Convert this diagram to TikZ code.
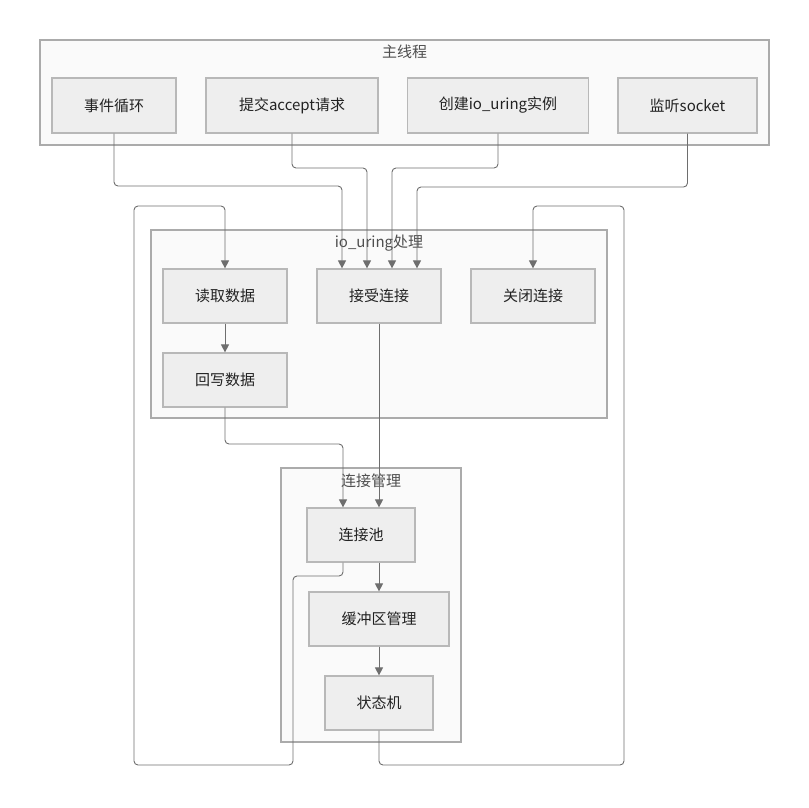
\documentclass[tikz,border=0pt]{standalone}
\usepackage{fontspec}
\setmainfont{Noto Sans CJK SC}
\usetikzlibrary{arrows.meta}
\definecolor{nodefill}{HTML}{EEEEEE}
\definecolor{nodeline}{HTML}{B8B8B8}
\definecolor{clfill}{HTML}{FAFAFA}
\definecolor{clline}{HTML}{ABABAB}
\definecolor{edgecol}{HTML}{6E6E6E}
\definecolor{txt}{HTML}{222222}
\tikzset{
  box/.style={draw=nodeline, fill=nodefill, line width=1.2pt, minimum height=54pt, inner sep=0pt, text=txt, font=\fontsize{15}{18}\selectfont},
  cluster/.style={draw=clline, fill=clfill, line width=1.2pt, inner sep=0pt},
  cltitle/.style={text=txt!80, font=\fontsize{15}{18}\selectfont, inner sep=0pt},
  arr/.style={draw=edgecol, line width=0.9pt, rounded corners=4pt, -{Triangle[length=8pt,width=8pt]}},
  plain/.style={draw=edgecol, line width=0.9pt, rounded corners=4pt},
}
\begin{document}
\begin{tikzpicture}[x=1pt,y=-1pt]
\useasboundingbox (0,0) rectangle (809,807);
% clusters
\node[cluster, minimum width=729pt, minimum height=105pt] (mainc) at (404.5,92.5) {};
\node[cltitle] (maint) at (404.5,52) {主线程};
\node[cluster, minimum width=456pt, minimum height=188pt] (ioc) at (379,324) {};
\node[cltitle] (iot) at (379,243) {io\_uring处理};
\node[cluster, minimum width=180pt, minimum height=274pt] (cmc) at (371,605) {};
\node[cltitle] (cmt) at (371,481) {连接管理};
% main thread nodes
\node[box, minimum width=124pt, minimum height=55pt] (loop) at (114,105.5) {事件循环};
\node[box, minimum width=172pt, minimum height=55pt] (submit) at (292,105.5) {提交accept请求};
\node[box, minimum width=181pt, minimum height=55pt] (create) at (498,105.5) {创建io\_uring实例};
\node[box, minimum width=139pt, minimum height=55pt] (listen) at (687.5,105.5) {监听socket};
% io_uring nodes
\node[box, minimum width=124pt] (read) at (225,296) {读取数据};
\node[box, minimum width=124pt] (accept) at (379,296) {接受连接};
\node[box, minimum width=124pt] (close) at (533,296) {关闭连接};
\node[box, minimum width=124pt] (write) at (225,380) {回写数据};
% connection management
\node[box, minimum width=108pt] (pool) at (361,535) {连接池};
\node[box, minimum width=140pt] (buffer) at (379,619) {缓冲区管理};
\node[box, minimum width=108pt] (state) at (379,703) {状态机};
% edges into accept
\draw[arr] (loop.south) -- (114,186) -| ([xshift=-37pt]accept.north);
\draw[arr] (submit.south) -- (292,168) -| ([xshift=-12pt]accept.north);
\draw[arr] (create.south) -- (498,168) -| ([xshift=13pt]accept.north);
\draw[arr] (listen.south) -- (687.5,187) -| ([xshift=38pt]accept.north);
% io_uring flow
\draw[arr] (read.south) -- (write.north);
\draw[arr] (accept.south) -- (accept.south |- pool.north);
\draw[arr] (write.south) -- (225,444) -| ([xshift=-18pt]pool.north);
\draw[arr] ([xshift=18pt]pool.south) -- (buffer.north);
\draw[arr] (buffer.south) -- (state.north);
% loops back
\draw[arr] ([xshift=-18pt]pool.south) -- (343,576) -| (293,765) -| (134,206) -| (read.north);
\draw[arr] (state.south) -- (379,765) -| (624,206) -| (close.north);
\end{tikzpicture}
\end{document}
